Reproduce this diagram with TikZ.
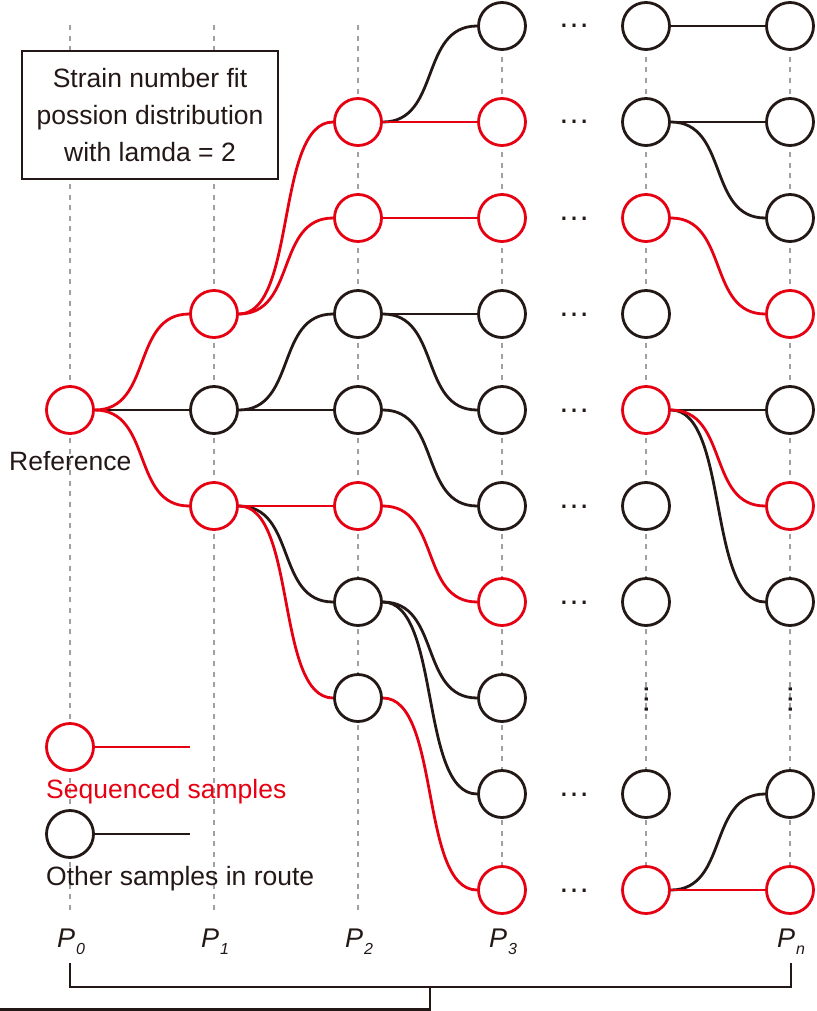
\documentclass[tikz,border=0pt]{standalone}
\usepackage{fontspec}
\setmainfont{Liberation Sans}
\definecolor{cred}{RGB}{230,0,18}
\definecolor{cblk}{RGB}{35,24,21}
\definecolor{cgray}{RGB}{160,160,160}
\newcommand\plab[1]{{\fontsize{27}{27}\selectfont\itshape P}\kern1pt\raisebox{-7pt}{\fontsize{16}{16}\selectfont\itshape #1}}
\tikzset{
  smp/.style={circle,draw=cblk,fill=white,line width=2.8pt,minimum size=47pt,inner sep=0pt},
  rsmp/.style={smp,draw=cred},
  bl/.style={draw=cblk,line width=2.8pt},
  rl/.style={draw=cred,line width=2.8pt},
  guide/.style={draw=cgray,line width=2.3pt,dash pattern=on 5pt off 5.6pt},
  txt/.style={font=\fontsize{26.5}{37}\selectfont,text=cblk,inner sep=0pt},
  plabel/.style={anchor=base,inner sep=0pt,text=cblk},
  hdots/.style={font=\fontsize{32}{32}\selectfont,text=cblk,inner sep=0pt,anchor=base},
  sc/.style={to path={.. controls +(58,0) and +(-58,0) .. (\tikztotarget)}}
}
\begin{document}
\begin{tikzpicture}[x=1pt,y=-1pt]
\useasboundingbox (0,0) rectangle (816,1011);
% guide lines
\foreach \x/\n in {70/0,214/1,358/2,502/3,646/4,790/5}{
  \coordinate (gt\n) at (\x,25);
  \coordinate (gb\n) at (\x,915);
  \draw[guide] (gt\n) -- (gb\n);
}
% box
\node[draw=cblk,line width=2.6pt,fill=white,minimum width=256pt,minimum height=128pt,align=center,txt,font=\fontsize{26.5}{37}\selectfont] (box) at (150,115) {Strain number fit\\possion distribution\\with lamda = 2};
% column 0
\node[rsmp] (n04) at (70,410) {};
\node[txt,anchor=base west] (reflab) at (9,470) {Reference};
% column 1
\node[rsmp] (n13) at (214,314) {};
\node[smp]  (n14) at (214,410) {};
\node[rsmp] (n15) at (214,506) {};
% column 2
\node[rsmp] (n21) at (358,122) {};
\node[rsmp] (n22) at (358,218) {};
\node[smp]  (n23) at (358,314) {};
\node[smp]  (n24) at (358,410) {};
\node[rsmp] (n25) at (358,506) {};
\node[smp]  (n26) at (358,602) {};
\node[smp]  (n27) at (358,698) {};
% column 3
\node[smp]  (n30) at (502,26) {};
\node[rsmp] (n31) at (502,122) {};
\node[rsmp] (n32) at (502,218) {};
\node[smp]  (n33) at (502,314) {};
\node[smp]  (n34) at (502,410) {};
\node[smp]  (n35) at (502,506) {};
\node[rsmp] (n36) at (502,602) {};
\node[smp]  (n37) at (502,698) {};
\node[smp]  (n38) at (502,794) {};
\node[rsmp] (n39) at (502,890) {};
% column n-1
\node[smp]  (n40) at (646,26) {};
\node[smp]  (n41) at (646,122) {};
\node[rsmp] (n42) at (646,218) {};
\node[smp]  (n43) at (646,314) {};
\node[rsmp] (n44) at (646,410) {};
\node[smp]  (n45) at (646,506) {};
\node[smp]  (n46) at (646,602) {};
\node[smp]  (n48) at (646,794) {};
\node[rsmp] (n49) at (646,890) {};
% column n
\node[smp]  (n50) at (790,26) {};
\node[smp]  (n51) at (790,122) {};
\node[smp]  (n52) at (790,218) {};
\node[rsmp] (n53) at (790,314) {};
\node[smp]  (n54) at (790,410) {};
\node[rsmp] (n55) at (790,506) {};
\node[smp]  (n56) at (790,602) {};
\node[smp]  (n58) at (790,794) {};
\node[rsmp] (n59) at (790,890) {};
% dots
\foreach \y/\k in {26/0,122/1,218/2,314/3,410/4,506/5,602/6,794/8,890/9}{
  \node[hdots] (hd\k) at (574,\y+2) {…};
}
\node[hdots,rotate=90] (vd4) at (648,699) {…};
\node[hdots,rotate=90] (vd5) at (792,699) {…};
% black edges
\path[bl] (n04.east) -- (n14.west);
\path[bl] (n14.east) to[sc] (n23.west);
\path[bl] (n14.east) -- (n24.west);
\path[bl] (n15.east) to[sc] (n26.west);
\path[bl] (n21.east) to[sc] (n30.west);
\path[bl] (n23.east) -- (n33.west);
\path[bl] (n23.east) to[sc] (n34.west);
\path[bl] (n24.east) to[sc] (n35.west);
\path[bl] (n26.east) to[sc] (n37.west);
\path[bl] (n26.east) to[sc] (n38.west);
\path[bl] (n40.east) -- (n50.west);
\path[bl] (n41.east) -- (n51.west);
\path[bl] (n41.east) to[sc] (n52.west);
\path[bl] (n44.east) -- (n54.west);
\path[bl] (n44.east) to[sc] (n56.west);
\path[bl] (n49.east) to[sc] (n58.west);
% red edges
\path[rl] (n04.east) to[sc] (n13.west);
\path[rl] (n04.east) to[sc] (n15.west);
\path[rl] (n13.east) to[sc] (n21.west);
\path[rl] (n13.east) to[sc] (n22.west);
\path[rl] (n15.east) -- (n25.west);
\path[rl] (n15.east) to[sc] (n27.west);
\path[rl] (n21.east) -- (n31.west);
\path[rl] (n22.east) -- (n32.west);
\path[rl] (n25.east) to[sc] (n36.west);
\path[rl] (n27.east) to[sc] (n39.west);
\path[rl] (n42.east) to[sc] (n53.west);
\path[rl] (n44.east) to[sc] (n55.west);
\path[rl] (n49.east) -- (n59.west);
% legend
\node[rsmp] (lg1) at (70,747) {};
\coordinate (lg1e) at (190,747);
\path[rl] (lg1.east) -- (lg1e);
\node[txt,text=cred,anchor=base west] (lt1) at (46,798) {Sequenced samples};
\node[smp] (lg2) at (70,834) {};
\coordinate (lg2e) at (190,834);
\path[bl] (lg2.east) -- (lg2e);
\node[txt,anchor=base west] (lt2) at (46,885) {Other samples in route};
% P labels
\node[plabel] (p0) at (71,947) {\plab{0}};
\node[plabel] (p1) at (215,947) {\plab{1}};
\node[plabel] (p2) at (359,947) {\plab{2}};
\node[plabel] (p3) at (503,947) {\plab{3}};
\node[plabel] (pn) at (791,947) {\plab{n}};
% bracket
\coordinate (b0) at (70,963);
\coordinate (b1) at (70,987);
\coordinate (b2) at (791,987);
\coordinate (b3) at (791,963);
\coordinate (bm) at (430,987);
\coordinate (bm2) at (430,1009.5);
\coordinate (bl2) at (-2,1009.5);
\draw[cblk,line width=2.6pt] (b0) -- (b1) -- (b2) -- (b3);
\draw[cblk,line width=2.6pt] (bm) -- (bm2) -- (bl2);
\end{tikzpicture}
\end{document}
